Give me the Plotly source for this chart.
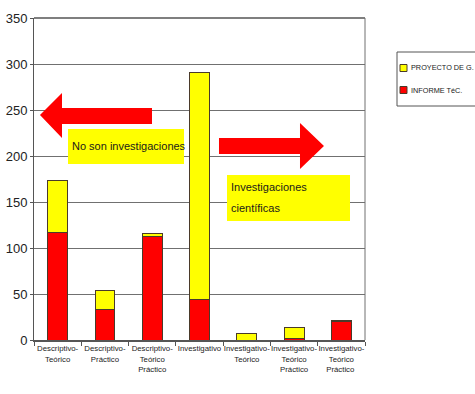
import plotly.graph_objects as go

# Categories and stacked values
categorias = [
    "Descriptivo-<br>Teórico",
    "Descriptivo-<br>Práctico",
    "Descriptivo-<br>Teórico<br>Práctico",
    "Investigativo",
    "Investigativo-<br>Teórico",
    "Investigativo-<br>Teórico<br>Práctico",
    "Investigativo-<br>Teórico<br>Práctico ",
]
informe_tec = [117, 33, 113, 44, 0, 2, 20]
proyecto_g = [56, 21, 3, 247, 7, 12, 1]

SERIES = [("PROYECTO DE G.", "#FFFF00"), ("INFORME TéC.", "#FF0000")]

W, H = 475, 394
L, R, T, B = 34, 365, 18, 340
FONT = "Liberation Sans, Arial, sans-serif"
EDGE = "#4a3a2a"


def px(x, y):
    """Convert page pixels to paper coordinates of the plot area."""
    return (x - L) / (R - L), (B - y) / (B - T)


def arrow_path(points):
    pts = [px(x, y) for x, y in points]
    return "M " + " L ".join(f"{a:.4f},{b:.4f}" for a, b in pts) + " Z"


def rect(x0, y0, x1, y1, fill, line=None):
    a0, b0 = px(x0, y1)
    a1, b1 = px(x1, y0)
    return dict(type="rect", xref="paper", yref="paper", x0=a0, y0=b0, x1=a1, y1=b1,
                fillcolor=fill, line=line or dict(width=0))


def label(x, y, text, size, anchor="left"):
    ax, ay = px(x, y)
    return dict(xref="paper", yref="paper", x=ax, y=ay, xanchor=anchor,
                yanchor="middle", showarrow=False, align="left", text=text,
                font=dict(family=FONT, size=size, color="#1a1a1a"))


fig = go.Figure()
fig.add_trace(go.Bar(
    x=categorias, y=informe_tec, name=SERIES[1][0],
    marker=dict(color=SERIES[1][1], line=dict(color=EDGE, width=1)),
))
fig.add_trace(go.Bar(
    x=categorias, y=proyecto_g, name=SERIES[0][0],
    marker=dict(color=SERIES[0][1], line=dict(color=EDGE, width=1)),
))

shapes = []
# left arrow
shapes.append(dict(type="path", xref="paper", yref="paper",
                   path=arrow_path([(40, 115), (62, 93), (62, 108), (152, 108),
                                    (152, 124), (62, 124), (62, 138)]),
                   fillcolor="#FF0000", line=dict(width=0)))
# right arrow
shapes.append(dict(type="path", xref="paper", yref="paper",
                   path=arrow_path([(324, 146), (300, 123), (300, 138), (219, 138),
                                    (219, 154), (300, 154), (300, 169)]),
                   fillcolor="#FF0000", line=dict(width=0)))
# yellow label boxes
shapes.append(rect(68, 129, 184, 164, "#FFFF00"))
shapes.append(rect(227, 175, 350, 221, "#FFFF00"))
# plot frame top and right
shapes.append(dict(type="line", xref="paper", yref="paper", x0=0, x1=1, y0=1, y1=1,
                   line=dict(color="#555555", width=1.5)))
shapes.append(dict(type="line", xref="paper", yref="paper", x0=1, x1=1, y0=0, y1=1,
                   line=dict(color="#707070", width=1)))

annotations = [
    label(70, 146, "No son investigaciones", 11),
    label(229, 187, "Investigaciones", 11),
    label(229, 208, "científicas", 11),
]

# legend box with swatches
shapes.append(rect(397, 52, 480, 106, "white", dict(color="#555555", width=1)))
for i, (name, color) in enumerate(SERIES):
    yc = 68 + 22 * i
    shapes.append(rect(400, yc - 3.5, 407, yc + 3.5, color, dict(color=EDGE, width=1)))
    annotations.append(label(409, yc, name, 7.3))

fig.update_layout(
    width=W, height=H,
    margin=dict(l=L, r=W - R, t=T, b=H - B, pad=0, autoexpand=False),
    barmode="stack", bargap=0.58, showlegend=False,
    plot_bgcolor="white", paper_bgcolor="white",
    shapes=shapes, annotations=annotations,
    font=dict(family=FONT, color="#222222"),
)
fig.update_yaxes(range=[0, 350], dtick=50, showgrid=True, gridcolor="#707070",
                 gridwidth=1, showline=True, linecolor="#555555", linewidth=1,
                 ticks="outside", ticklen=3, tickcolor="#555555", automargin=False,
                 tickfont=dict(family=FONT, size=13, color="#222222"),
                 zeroline=False)
fig.update_xaxes(showline=True, linecolor="#555555", linewidth=2,
                 ticks="outside", ticklen=4, tickcolor="#555555",
                 tickson="boundaries", tickangle=0, automargin=False,
                 tickfont=dict(family=FONT, size=7.8, color="#222222"))

fig.write_html("out.html")
